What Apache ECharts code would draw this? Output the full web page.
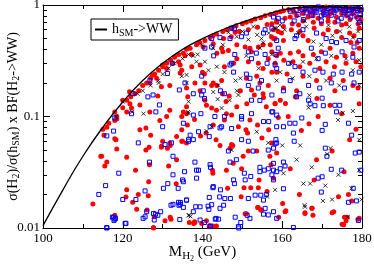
<!DOCTYPE html>
<html><head><meta charset="utf-8">
<script src="https://cdn.jsdelivr.net/npm/echarts@6/dist/echarts.min.js"></script>
<style>html,body{margin:0;padding:0;background:#fff}#c{width:374px;height:265px}</style>
</head><body><div id="c"></div>
<script>
var xTicks = [100, 120, 140, 160, 180];
var yMajorTicks = [0.01, 0.1, 1];
var yMinorTicks = [0.02,0.03,0.04,0.05,0.06,0.07,0.08,0.09,0.2,0.3,0.4,0.5,0.6,0.7,0.8,0.9];

var smMass = [100,105,110,115,120,125,130,135,140,145,150,155,160,165,170,175,180];
var smBF = [0.0105,0.022,0.044,0.080,0.135,0.21,0.30,0.40,0.50,0.60,0.70,0.80,0.90,0.955,0.965,0.955,0.935];

var redPts = [
[115,0.077],[115.3,0.068],[116,0.08],[116.5,0.087],[118,0.11],[118.5,0.095],[118,0.063],[118.5,0.051],[114.5,0.044],[116,0.039],[115.5,0.036],[112.5,0.0164],[118,0.013],[121,0.043],[121,0.022],[120.8,0.019],[120,0.14],[120,0.12],[121,0.11],
[124.3,0.076],[125.8,0.079],[127,0.068],[130,0.060],[129.3,0.092],[131,0.1],[131.8,0.114],[128.8,0.153],[129.7,0.185],[128.5,0.22],[127.5,0.235],[126.7,0.2],[131,0.27],[130,0.29],[132.5,0.30],[134,0.31],[131.8,0.19],[134.4,0.245],[121.7,0.167],[121,0.14],[121.8,0.13],[122.2,0.119],[133.5,0.066],[129.7,0.053],[131.8,0.058],[134.8,0.076],[134.8,0.1],[136,0.122],[136.3,0.15],[126.8,0.11],[124.3,0.127],[118.5,0.1],[118,0.092],
[118.3,0.062],[114.7,0.044],[123.2,0.033],[125.8,0.050],[126.6,0.053],[129.7,0.054],[131.2,0.052],[131.9,0.055],[126.7,0.037],[131.5,0.036],[133.5,0.041],[135,0.06],[126.5,0.026],[122.5,0.017],[123.9,0.020],[126.4,0.0195],[133.4,0.025],[123.5,0.0147],[126.1,0.0145],[127.9,0.0126],[130.6,0.0116],[132.1,0.012],[127.7,0.0101],[136.7,0.0112],
[141,0.126],[142.3,0.119],[143.5,0.114],[140.6,0.14],[146.7,0.153],[145.9,0.136],[148.6,0.122],[151.1,0.13],[153,0.156],[155.3,0.148],[156,0.122],[158.2,0.13],[135.2,0.11],[136,0.106],[136.2,0.084],[138,0.094],[146,0.106],[147.3,0.103],[145.5,0.093],[142.7,0.084],[140.9,0.071],[139.5,0.067],[143.4,0.062],[134.8,0.06],[136,0.058],[149,0.081],[150.9,0.076],[151.3,0.071],[151.9,0.093],[153.8,0.084],[156.6,0.076],[154.9,0.064],[157.4,0.058],[147.3,0.056],[147.6,0.055],[146.9,0.052],[144.4,0.055],[151.5,0.049],[153.6,0.049],[150.2,0.044],[156.9,0.044],[147.7,0.038],[149.8,0.034],[142.5,0.033],[142.6,0.031],[146,0.033],[154.2,0.027],[157.8,0.028],[146.3,0.0227],[150.4,0.023],[152.1,0.023],[154,0.023],[156.2,0.0213],[149.7,0.0191],[153.8,0.0153],[154.8,0.0145],[151,0.0134],[141,0.0116],[143.5,0.0104],[141.7,0.0103],[138,0.0114],[139.8,0.011],[137.8,0.011],
[135.2,0.37],[136,0.40],[136.9,0.41],[138.5,0.44],[139.3,0.46],[140.6,0.48],[141.9,0.51],[142.6,0.53],[143.5,0.55],[145.1,0.58],[146.1,0.60],[147.4,0.62],[148.4,0.65],[150,0.68],[151,0.70],[152.2,0.72],[153.2,0.75],[154.6,0.77],[155.7,0.80],[157,0.82],[158.1,0.84],
[135.6,0.35],[137.3,0.36],[140.2,0.42],[142.7,0.45],[145.3,0.50],[147.2,0.52],[148.2,0.57],[149.2,0.58],[151.5,0.6],[153.8,0.63],[156.2,0.67],[158.6,0.72],[159,0.58],[157.3,0.52],
[134.4,0.29],[134.8,0.26],[137.3,0.28],[139.4,0.29],[140,0.25],[140.5,0.24],[138.1,0.2],[140.6,0.2],[142.7,0.2],[143.6,0.19],[144.8,0.21],[144.8,0.41],[145.1,0.38],[143.6,0.37],[146.5,0.39],[148.6,0.44],[150.7,0.42],[151.9,0.41],[152.3,0.38],[154,0.42],[155.2,0.44],[157,0.44],[157.8,0.5],[157.4,0.38],[156.5,0.33],[158.2,0.3],[154,0.3],[151.5,0.31],[148.6,0.33],[147.8,0.3],[145.5,0.28],[155.2,0.27],[157.4,0.25],[153.6,0.23],[151,0.22],[154.4,0.2],[156.5,0.19],[142.3,0.19],[149.5,0.17],[152.3,0.173],[155.2,0.16],[136,0.18],[139.4,0.17],[145,0.16],
[158.5,0.85],[159.5,0.87],[160.3,0.89],[161.6,0.91],[162.7,0.9],[164.4,0.93],[166,0.95],[167.7,0.93],[169.4,0.96],[171,0.96],[172.7,0.96],[174.4,0.93],[175.6,0.93],[176.8,0.95],[178,0.93],[179.3,0.93],
[163,0.86],[165.5,0.88],[168,0.89],[170.5,0.9],[173,0.89],[175,0.88],[177.5,0.89],[179.5,0.88],[167,0.86],[172,0.84],[176,0.86],
[157.4,0.68],[158.6,0.7],[160.7,0.76],[162,0.78],[163.6,0.8],[165.2,0.84],[166.5,0.78],[167.7,0.8],[169,0.76],[170.3,0.84],[171.5,0.78],[172.4,0.87],[173.6,0.78],[174.9,0.84],[176.1,0.8],[177,0.74],[177.7,0.84],[178.6,0.78],[179.7,0.74],[179,0.68],[176,0.68],[174.9,0.66],[173.2,0.70],[171.5,0.72],[169.8,0.68],[167.8,0.7],[165.2,0.72],[164.1,0.66],[162.5,0.68],[160.3,0.64],
[157.8,0.6],[159.8,0.56],[158.2,0.5],[160.3,0.48],[162.3,0.6],[164.4,0.58],[165.2,0.53],[166.5,0.48],[168,0.62],[170.3,0.55],[171.5,0.6],[173.6,0.58],[174.9,0.51],[176.9,0.56],[178,0.53],[179.3,0.62],[177.2,0.46],[178.8,0.46],[179.3,0.41],[177.7,0.37],[175.7,0.35],[173.6,0.34],[172,0.41],[169.8,0.38],[167.8,0.36],[165.2,0.35],[164.1,0.38],[162,0.37],[159.5,0.37],[158.6,0.35],[160.4,0.32],[162.7,0.31],[164.4,0.28],[166.9,0.3],[169.4,0.27],[171,0.31],[173.1,0.28],[176,0.30],[178.5,0.31],[179.7,0.28],[158.6,0.25],[161.2,0.24],[165.2,0.23],[168.6,0.21],[172,0.22],[175.3,0.21],[177.7,0.19],[179,0.18],[160.3,0.18],[163.6,0.17],[173.2,0.17],
[158.2,0.131],[159.5,0.14],[160.8,0.131],[163.3,0.15],[168.7,0.145],[172,0.126],[174.9,0.106],[179.3,0.13],[169,0.1],[166.7,0.086],[161.5,0.1],[159,0.098],[164.8,0.075],[178.5,0.077],[176.9,0.062],[172.5,0.049],[158.6,0.047],[168.6,0.041],[162,0.034],[157.2,0.037],[168,0.027],[175.5,0.032],[164.3,0.02],[174.1,0.0191],[176.6,0.02],[177.4,0.0175],[160.1,0.0166],[167.4,0.015],[165.7,0.0135],[172.9,0.014],[160.7,0.014],[176.3,0.0125],[176,0.0116],[175.4,0.0107],[179.3,0.0122],
[127.7,0.0100],[131.9,0.0125],[138.1,0.0112],[141.8,0.0105],[142.6,0.0104],[150.7,0.0134],[154,0.0153],[154.6,0.0145],[160.9,0.0143],[159.1,0.0125],[165.7,0.0137],[167.5,0.015],[167.7,0.013],[172.5,0.0137],[175.6,0.0125],[175,0.0108],[179,0.012],
[125,0.19],[126,0.2],[127,0.22],[128,0.24],[129,0.26],[130,0.28],[131,0.3],[132,0.32],[133,0.34],[134,0.36],[122,0.15],[123,0.16],[124,0.17]
];

var bluePts = [
[118,0.097],[116,0.067],[117.7,0.074],[119,0.031],[115.7,0.024],[114,0.020],[120,0.018],[117.7,0.0125],[118.2,0.0122],[117.8,0.0117],[116,0.0101],[120.8,0.011],
[122.5,0.16],[122.2,0.106],[127.6,0.156],[126.3,0.15],[129.2,0.127],[128.3,0.11],[130,0.081],[123.9,0.058],[135.2,0.087],[131.2,0.243],[132.4,0.30],[126.8,0.21],[134.2,0.173],[130.6,0.056],[132.2,0.058],[136.5,0.062],
[132.6,0.044],[126.7,0.039],[125.6,0.0215],[123.3,0.018],[132.6,0.030],[131.3,0.025],[130.2,0.0227],[133.9,0.0227],[135.2,0.026],[136,0.0178],[134.5,0.0169],[134.4,0.0163],[132.6,0.0163],[129.5,0.014],[127.7,0.0135],[126,0.014],[125.6,0.0126],[127.9,0.0118],[118,0.012],[134.3,0.0119],[135.5,0.032],
[139.8,0.156],[140.5,0.145],[145.5,0.16],[152.3,0.14],[154.4,0.139],[157.4,0.11],[156.6,0.09],[155.3,0.09],[152.3,0.106],[149.8,0.1],[149.8,0.095],[147.3,0.078],[145.5,0.1],[144.8,0.081],[144.4,0.079],[141.9,0.081],[143.1,0.1],[137.7,0.103],[139.6,0.106],[139,0.073],[136.9,0.068],[137.7,0.062],[136.5,0.06],[141.7,0.066],[149.8,0.062],[151.5,0.06],[152.7,0.049],[156.5,0.05],[158.6,0.058],[158.4,0.062],[146.5,0.049],[148.5,0.041],[146.9,0.039],[141.9,0.037],[142,0.035],[138.5,0.033],[139,0.033],[138.1,0.039],[135,0.027],[138.5,0.028],[142.7,0.0235],[142.6,0.023],[144.5,0.022],[147.8,0.027],[148,0.025],[152.1,0.029],[154.4,0.032],[156.5,0.034],[157.8,0.038],[155.5,0.033],[154.4,0.035],[150.5,0.031],[150.7,0.027],[153.2,0.0197],[154.6,0.0197],[156,0.02],[155.3,0.0178],[151.5,0.0184],[145.6,0.0184],[144.3,0.019],[147,0.0184],[141.7,0.0188],[142.3,0.0162],[139.4,0.0155],[136,0.0178],[135.2,0.0153],[137.7,0.014],[144.4,0.015],[143.4,0.0122],[141.9,0.0103],[149,0.0103],[151.9,0.0122],[156.5,0.0131],[157.8,0.014],[158.6,0.0122],
[147.2,0.62],[148,0.61],[146.9,0.5],[142.3,0.50],[144.4,0.51],[151,0.56],[149.8,0.52],[155.3,0.56],[155.7,0.6],[157.4,0.62],[159,0.76],[140.6,0.41],[142.3,0.42],[148.1,0.36],[147.3,0.30],[151.5,0.38],[152.3,0.33],[155.7,0.36],[156.2,0.30],[158.4,0.36],[154.8,0.21],[154,0.18],[151,0.24],[151.9,0.22],[147.8,0.25],[146.9,0.29],[139.8,0.23],[135.6,0.20],[144.5,0.17],[140.2,0.17],[137.7,0.16],[151.5,0.19],[158.6,0.27],[153.5,0.37],[142.8,0.35],
[165.7,0.93],[167,0.9],[168.2,0.88],[169,0.96],[170.2,0.91],[171,0.89],[172.2,0.95],[173.5,0.9],[174.4,0.95],[175.6,0.89],[176.9,0.91],[177.7,0.95],[178.9,0.89],[179.8,0.91],[167.4,0.81],[169.8,0.8],[172.3,0.81],[174.8,0.76],[177.2,0.78],[179,0.76],[179.4,0.7],[174,0.72],[169.8,0.72],[165.3,0.74],[163,0.72],[160,0.72],[157.8,0.78],
[162,0.88],[163.5,0.9],[165,0.91],[166.5,0.94],[168,0.93],[169.5,0.92],[171.5,0.93],[173,0.94],[174.5,0.92],[176,0.93],[177.5,0.92],[179,0.93],[166,0.85],[168.5,0.86],[171,0.85],[173,0.86],[175.5,0.85],[178,0.86],[179.5,0.84],[164,0.82],[170.5,0.82],[176.5,0.82],
[163.6,0.53],[165.2,0.6],[168.6,0.56],[171,0.5],[172.4,0.47],[173.6,0.46],[176,0.48],[178,0.42],[179.3,0.48],[177.7,0.34],[175,0.38],[170.8,0.37],[169,0.33],[167.3,0.41],[163.2,0.5],[158.6,0.48],[159,0.41],[161.6,0.3],[163.2,0.28],[165.2,0.25],[168.2,0.26],[170.2,0.25],[172.8,0.24],[175,0.25],[177.4,0.24],[179.3,0.25],[162,0.21],[166.6,0.19],[169.4,0.18],[172.3,0.2],[175.6,0.18],[178,0.2],[158.2,0.29],
[157.4,0.156],[160.3,0.17],[164.4,0.16],[163.6,0.15],[166.6,0.14],[167,0.13],[168.2,0.125],[170,0.146],[170.3,0.125],[173.2,0.126],[174.4,0.126],[173.6,0.11],[157.6,0.11],[158.6,0.103],[158.6,0.081],[160.3,0.081],[161.9,0.087],[162.8,0.071],[163.2,0.087],[164.9,0.097],[170,0.075],[170.8,0.085],[176.6,0.087],[177.4,0.068],[158.2,0.057],[157.8,0.052],[163,0.06],[170.8,0.052],[171.2,0.044],[178.3,0.047],[179.3,0.048],[160.3,0.039],[160.7,0.036],[159.5,0.034],[158.6,0.032],[157.8,0.033],[157.4,0.03],[157.8,0.027],[160.3,0.0225],[170,0.0288],[169,0.028],[172.3,0.0336],[174.9,0.033],[177.8,0.0227],[178.6,0.0175],[176.6,0.017],[179.7,0.033],[169.8,0.021],[162.8,0.0101],
[116,0.0100],[117.4,0.0125],[120.6,0.011],[125.1,0.0122],[128.2,0.0133],[128.8,0.013],[132.1,0.016],[134,0.017],[134.1,0.016],[138.3,0.0155],[141.4,0.0157],[141.6,0.0147],[139.4,0.0118],[140.5,0.0112],[142,0.0104],[143.2,0.012],[144,0.012],[145.3,0.016],[148.2,0.0125],[149.1,0.01],[149.6,0.0112],[151.2,0.013],[155.3,0.0133],[155.7,0.015],[179.1,0.0117]
];

var blackPts = [
[128.9,0.21],[122.3,0.11],[125.2,0.106],[120,0.136],[118.3,0.1],[123.7,0.16],[136.5,0.136],[136.5,0.107],[136,0.236],[136.5,0.013],
[142.7,0.166],[149,0.156],[136.4,0.11],[146.8,0.14],[153.6,0.073],[156.5,0.058],[142.3,0.081],[144.8,0.119],[147.3,0.05],[141,0.074],[156.2,0.0191],[136.7,0.013],[143.8,0.143],
[137.7,0.35],[138.8,0.36],[136.5,0.36],[139.8,0.44],[142.7,0.41],[145.1,0.44],[146.5,0.57],[148.6,0.52],[150,0.58],[152.7,0.64],[153.7,0.54],[154.8,0.5],[156.6,0.56],[151.5,0.49],[155.2,0.46],[154.4,0.41],[158.6,0.62],[138.5,0.31],[134.8,0.23],[136,0.2],[143.6,0.28],[143.9,0.19],[148.3,0.21],[149.5,0.22],[154.1,0.27],[158.6,0.21],[151,0.35],[145.5,0.25],[141.5,0.26],[140.6,0.31],[148.6,0.17],
[158.2,0.62],[159.4,0.66],[160.6,0.6],[164,0.56],[166,0.64],[167.8,0.47],[169.8,0.44],[172.6,0.53],[174.5,0.58],[176.8,0.64],[177.7,0.51],[179,0.58],[157.4,0.36],[162,0.3],[165.2,0.31],[168.6,0.33],[172.3,0.35],[176,0.33],[179.3,0.32],[159.5,0.25],[162.6,0.22],[166.8,0.23],[171,0.21],[174.3,0.19],[177.7,0.26],[179.3,0.19],[165.6,0.72],[171.6,0.66],
[166.8,0.155],[166.6,0.12],[175.2,0.108],[174,0.093],[177.7,0.112],[179.3,0.062],[160,0.055],[164.5,0.055],[172.1,0.052],[171.3,0.046],[163.6,0.041],[167.4,0.035],[177.4,0.0227],[179.3,0.033],[174.1,0.03],[165.3,0.025],[167,0.025],[170.8,0.024],[172.5,0.018],[170.2,0.0175],[165.6,0.016],[158.2,0.022],[179.9,0.018],[160.3,0.031],
[137,0.0127],[165.7,0.0155],[176.4,0.0125],
[125,0.17],[127,0.19],[130,0.24],[133,0.3],[135,0.33],[129,0.2],[131.5,0.27]
];

var FONT = 'Liberation Serif';
var chart = echarts.init(document.getElementById('c'), null, {renderer: 'canvas'});
var smLine = smMass.map(function (m, i) { return [m, smBF[i]]; });

function yAxisDef(pos, ticks, len, showLine, showLabel) {
  return {
    type: 'log', logBase: 10, min: 0.01, max: 1, position: pos,
    axisLine: {show: showLine, lineStyle: {color: '#000', width: 1}},
    axisTick: {show: true, inside: true, length: len, customValues: ticks, lineStyle: {color: '#000', width: 1}},
    axisLabel: {show: showLabel, customValues: yMajorTicks, margin: 3, fontFamily: FONT, fontSize: 13, color: '#000',
      formatter: function (v) { return v >= 1 ? '1' : (v >= 0.1 ? '0.1' : '0.01'); }},
    splitLine: {show: false}
  };
}

var yAxes = [
  yAxisDef('left', yMajorTicks, 7, true, true),
  yAxisDef('left', yMinorTicks, 4, false, false),
  yAxisDef('right', yMajorTicks, 7, true, false),
  yAxisDef('right', yMinorTicks, 4, false, false)
];
yAxes[0].name = '{a|σ(H}{s|2}{a|)/σ(h}{s|SM}{a|) x BF(H}{s|2}{a|->WW)}';
yAxes[0].nameLocation = 'middle';
yAxes[0].nameGap = 21;
yAxes[0].nameRotate = 90;
yAxes[0].nameMoveOverlap = false;
yAxes[0].nameTextStyle = {fontFamily: FONT, color: '#000', rich: {
  a: {fontFamily: FONT, fontSize: 14, color: '#000', lineHeight: 18},
  s: {fontFamily: FONT, fontSize: 10, color: '#000', lineHeight: 18, padding: [7, 0, 0, 0]}
}};

function xAxisDef(pos, showLabel) {
  return {
    type: 'value', min: 100, max: 180, interval: 20, position: pos,
    axisLine: {show: true, lineStyle: {color: '#000', width: 1}},
    axisTick: {show: true, inside: true, length: 7, lineStyle: {color: '#000'}},
    minorTick: {show: true, splitNumber: 2, length: 4, lineStyle: {color: '#000'}},
    axisLabel: {show: showLabel, margin: 4, fontFamily: FONT, fontSize: 13, color: '#000'},
    splitLine: {show: false}
  };
}
var xAxes = [xAxisDef('bottom', true), xAxisDef('top', false)];
xAxes[0].name = '{a|M}{s|H}{ss|2}{a| (GeV)}';
xAxes[0].nameLocation = 'middle';
xAxes[0].nameGap = 14;
xAxes[0].nameMoveOverlap = false;
xAxes[0].nameTextStyle = {fontFamily: FONT, color: '#000', rich: {
  a: {fontFamily: FONT, fontSize: 15, color: '#000', lineHeight: 20},
  s: {fontFamily: FONT, fontSize: 11, color: '#000', lineHeight: 20, padding: [8, 0, 0, 0]},
  ss: {fontFamily: FONT, fontSize: 8, color: '#000', lineHeight: 20, padding: [14, 0, 0, 0]}
}};

chart.setOption({
  animation: false,
  backgroundColor: '#fff',
  grid: {left: 43, right: 12, top: 5, bottom: 37, containLabel: false, outerBoundsMode: 'none'},
  xAxis: xAxes,
  yAxis: yAxes,
  legend: {
    show: true, left: 91, top: 19, orient: 'vertical',
    backgroundColor: '#fff', borderColor: '#000', borderWidth: 1, borderRadius: 0,
    padding: [2, 6, 2, 4], itemWidth: 12, itemHeight: 2, itemGap: 0,
    data: [{name: 'hsm', icon: 'rect'}],
    formatter: function () { return '{a|h}{s|SM}{a|->WW}'; },
    textStyle: {fontFamily: FONT, color: '#000', rich: {
      a: {fontFamily: FONT, fontSize: 14, color: '#000', lineHeight: 16},
      s: {fontFamily: FONT, fontSize: 10, color: '#000', lineHeight: 16, padding: [7, 0, 0, 0]}
    }}
  },
  series: [
    {type: 'scatter', name: 'red', data: redPts, symbol: 'circle', symbolSize: 5,
      itemStyle: {color: '#ff0000', opacity: 1}, z: 2},
    {type: 'scatter', name: 'blue', data: bluePts, symbol: 'rect', symbolSize: 4,
      itemStyle: {color: 'rgba(255,255,255,0)', borderColor: '#0000ff', borderWidth: 1, opacity: 1}, z: 3},
    {type: 'scatter', name: 'black', data: blackPts, symbol: 'path://M0,0L10,10M10,0L0,10', symbolSize: 4,
      itemStyle: {color: 'rgba(0,0,0,0)', borderColor: '#000', borderWidth: 0.8, opacity: 1}, z: 4},
    {type: 'line', name: 'hsm', data: smLine, smooth: true, symbol: 'none',
      lineStyle: {color: '#000', width: 1.3}, itemStyle: {color: '#000'}, z: 5}
  ]
});
</script></body></html>
